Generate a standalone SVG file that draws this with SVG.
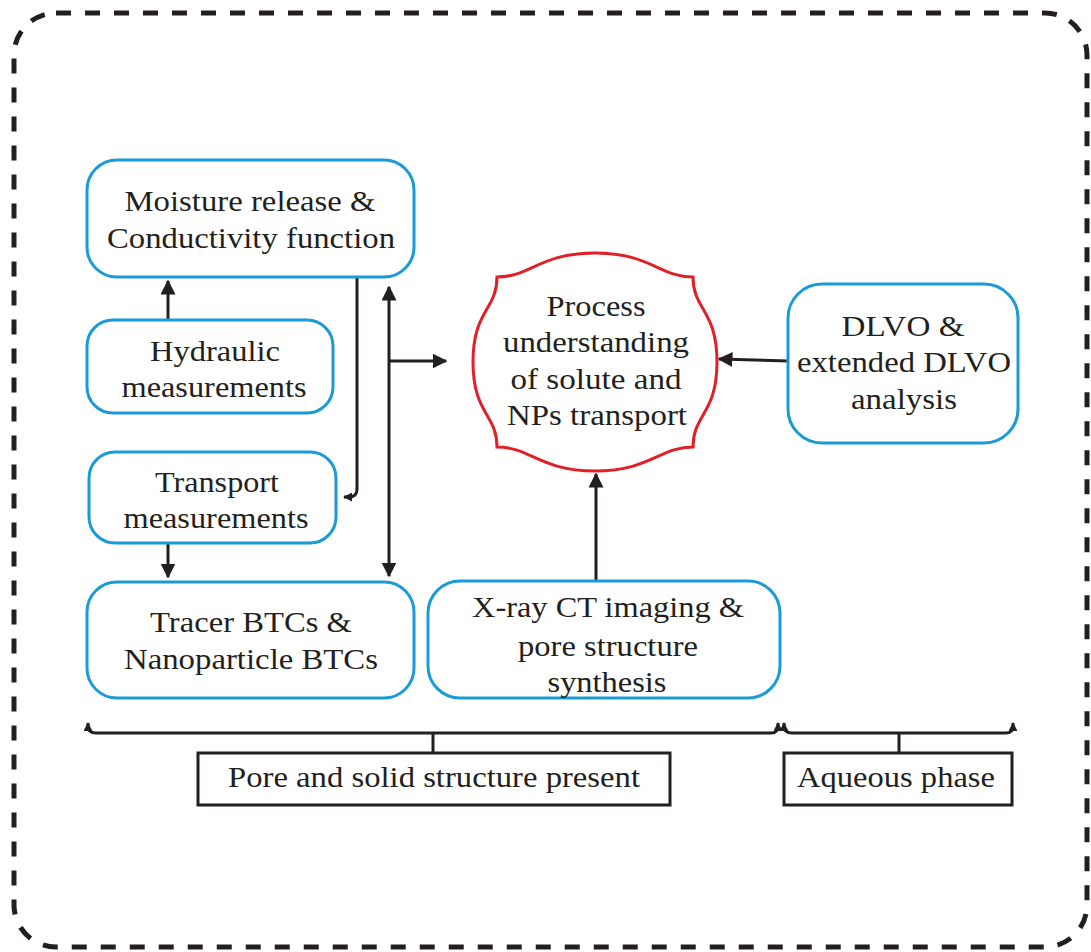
<svg xmlns="http://www.w3.org/2000/svg" width="1091" height="952" viewBox="0 0 1091 952">
  <style>
    .box { fill: #ffffff; stroke: #1b9ad8; stroke-width: 3; }
    .lbl { font-family: "Liberation Serif", "Times New Roman", serif; font-size: 29px; fill: #231f20; text-anchor: middle; }
    .wire { fill: none; stroke: #231f20; stroke-width: 3; }
    .brace { fill: none; stroke: #231f20; stroke-width: 3; }
    .tag { fill: #ffffff; stroke: #231f20; stroke-width: 3; }
  </style>
  <defs>
    <marker id="arrow" viewBox="0 0 10 10" refX="9" refY="5" markerWidth="5" markerHeight="5" markerUnits="strokeWidth" orient="auto-start-reverse">
      <path d="M0,0 L10,5 L0,10 z" fill="#231f20"/>
    </marker>
    <marker id="tick" viewBox="0 0 10 10" refX="9" refY="5" markerWidth="3" markerHeight="3" markerUnits="strokeWidth" orient="auto-start-reverse">
      <path d="M0,0 L10,5 L0,10 z" fill="#231f20"/>
    </marker>
  </defs>

  <rect width="1091" height="952" fill="#ffffff"/>

  <!-- outer dashed frame -->
  <rect x="14" y="13" width="1073" height="934" rx="42" ry="42" fill="none" stroke="#231f20" stroke-width="5" stroke-dasharray="15 14"/>

  <!-- connectors -->
  <g id="connectors">
    <line class="wire" x1="168" y1="320" x2="168" y2="281" marker-end="url(#arrow)"/>
    <line class="wire" x1="168" y1="543" x2="168" y2="577" marker-end="url(#arrow)"/>
    <path class="wire" d="M357,277 V489 Q357,497 349,497 H344" marker-end="url(#tick)"/>
    <line class="wire" x1="389" y1="287" x2="389" y2="576" marker-start="url(#arrow)" marker-end="url(#arrow)"/>
    <line class="wire" x1="389" y1="361" x2="446" y2="361" marker-end="url(#arrow)"/>
    <line class="wire" x1="596" y1="581" x2="596" y2="474" marker-end="url(#arrow)"/>
    <line class="wire" x1="788" y1="361" x2="719" y2="359" marker-end="url(#arrow)"/>

    <!-- grouping braces -->
    <path class="brace" d="M88,723 V726 Q88,733 96,733 H771 Q778,733 778,726 V723" marker-start="url(#tick)" marker-end="url(#tick)"/>
    <line class="brace" x1="433" y1="733" x2="433" y2="753"/>
    <path class="brace" d="M784,723 V726 Q784,733 792,733 H1006 Q1013,733 1013,726 V723" marker-start="url(#tick)" marker-end="url(#tick)"/>
    <line class="brace" x1="899" y1="733" x2="899" y2="753"/>
  </g>

  <g id="moisture">
    <rect class="box" x="87" y="160" width="327" height="117" rx="30"/>
    <text class="lbl" x="250" y="211" textLength="251" lengthAdjust="spacingAndGlyphs">Moisture release &amp;</text>
    <text class="lbl" x="251" y="248" textLength="288" lengthAdjust="spacingAndGlyphs">Conductivity function</text>
  </g>

  <g id="hydraulic">
    <rect class="box" x="87" y="320" width="246" height="93" rx="26"/>
    <text class="lbl" x="215" y="361" textLength="130" lengthAdjust="spacingAndGlyphs">Hydraulic</text>
    <text class="lbl" x="214" y="397" textLength="185" lengthAdjust="spacingAndGlyphs">measurements</text>
  </g>

  <g id="transport">
    <rect class="box" x="89" y="452" width="247" height="91" rx="26"/>
    <text class="lbl" x="217" y="492" textLength="124" lengthAdjust="spacingAndGlyphs">Transport</text>
    <text class="lbl" x="216" y="528" textLength="185" lengthAdjust="spacingAndGlyphs">measurements</text>
  </g>

  <g id="tracer">
    <rect class="box" x="87" y="582" width="327" height="116" rx="30"/>
    <text class="lbl" x="251" y="632" textLength="202" lengthAdjust="spacingAndGlyphs">Tracer BTCs &amp;</text>
    <text class="lbl" x="251" y="669" textLength="254" lengthAdjust="spacingAndGlyphs">Nanoparticle BTCs</text>
  </g>

  <g id="xray">
    <rect class="box" x="428" y="581" width="352" height="117" rx="32"/>
    <text class="lbl" x="608" y="617" textLength="272" lengthAdjust="spacingAndGlyphs">X-ray CT imaging &amp;</text>
    <text class="lbl" x="608" y="656" textLength="180" lengthAdjust="spacingAndGlyphs">pore structure</text>
    <text class="lbl" x="607" y="692" textLength="119" lengthAdjust="spacingAndGlyphs">synthesis</text>
  </g>

  <g id="dlvo">
    <rect class="box" x="788" y="284" width="230" height="159" rx="34"/>
    <text class="lbl" x="903" y="336" textLength="123" lengthAdjust="spacingAndGlyphs">DLVO &amp;</text>
    <text class="lbl" x="904" y="372" textLength="214" lengthAdjust="spacingAndGlyphs">extended DLVO</text>
    <text class="lbl" x="904" y="409" textLength="106" lengthAdjust="spacingAndGlyphs">analysis</text>
  </g>

  <g id="process">
    <path d="M497,277 C530,277 540,253 595,253 C650,253 660,277 693,277 C693,310 717,310 717,362 C717,414 693,414 693,447 C660,447 650,471 595,471 C540,471 530,447 497,447 C497,414 473,414 473,362 C473,310 497,310 497,277 Z" fill="#ffffff" stroke="#e11f26" stroke-width="3"/>
    <text class="lbl" x="596" y="316" textLength="99" lengthAdjust="spacingAndGlyphs">Process</text>
    <text class="lbl" x="596" y="352" textLength="186" lengthAdjust="spacingAndGlyphs">understanding</text>
    <text class="lbl" x="596" y="389" textLength="171" lengthAdjust="spacingAndGlyphs">of solute and</text>
    <text class="lbl" x="597" y="425" textLength="180" lengthAdjust="spacingAndGlyphs">NPs transport</text>
  </g>

  <g id="pore-solid">
    <rect class="tag" x="198" y="753" width="472" height="52"/>
    <text class="lbl" x="434" y="787" textLength="412" lengthAdjust="spacingAndGlyphs">Pore and solid structure present</text>
  </g>

  <g id="aqueous">
    <rect class="tag" x="784" y="753" width="228" height="52"/>
    <text class="lbl" x="896" y="787" textLength="198" lengthAdjust="spacingAndGlyphs">Aqueous phase</text>
  </g>
</svg>
